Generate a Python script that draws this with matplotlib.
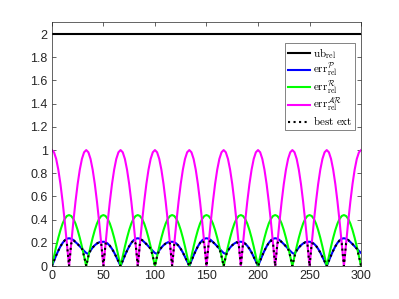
import numpy as np
import matplotlib
matplotlib.use("Agg")
import matplotlib.pyplot as plt

plt.rcParams['mathtext.fontset'] = 'cm'
plt.rcParams['font.family'] = ['Liberation Sans', 'DejaVu Sans']

# x samples (0..300) and one period (66.7 units, 32 samples) of each curve
x_start, x_end, n_points = 0, 300, 145

ub_value = 2.0

err_P_period = [0.000, 0.047, 0.092, 0.133, 0.170, 0.200, 0.222, 0.236,
                0.240, 0.236, 0.225, 0.208, 0.190, 0.170, 0.150, 0.131,
                0.113, 0.105, 0.135, 0.160, 0.180, 0.195, 0.205, 0.209,
                0.210, 0.207, 0.194, 0.175, 0.149, 0.117, 0.080, 0.041]

err_R_period = [0.000, 0.086, 0.168, 0.244, 0.311, 0.367, 0.407, 0.432,
                0.440, 0.432, 0.407, 0.367, 0.311, 0.244, 0.168, 0.086,
                0.000, 0.086, 0.168, 0.244, 0.311, 0.367, 0.407, 0.432,
                0.440, 0.432, 0.407, 0.367, 0.311, 0.244, 0.168, 0.086]

err_AR_period = [1.000, 0.981, 0.924, 0.831, 0.707, 0.556, 0.383, 0.195,
                 0.000, 0.195, 0.383, 0.556, 0.707, 0.831, 0.924, 0.981,
                 1.000, 0.981, 0.924, 0.831, 0.707, 0.556, 0.383, 0.195,
                 0.000, 0.195, 0.383, 0.556, 0.707, 0.831, 0.924, 0.981]

best_ext_period = [0.000, 0.047, 0.092, 0.133, 0.170, 0.200, 0.222, 0.195,
                   0.000, 0.195, 0.225, 0.208, 0.190, 0.170, 0.150, 0.086,
                   0.000, 0.086, 0.135, 0.160, 0.180, 0.195, 0.205, 0.195,
                   0.000, 0.195, 0.194, 0.175, 0.149, 0.117, 0.080, 0.041]

labels = [r'$\mathrm{ub}_{\mathrm{rel}}$',
          r'$\mathrm{err}^{\mathcal{P}}_{\mathrm{rel}}$',
          r'$\mathrm{err}^{\mathcal{R}}_{\mathrm{rel}}$',
          r'$\mathrm{err}^{\mathcal{AR}}_{\mathrm{rel}}$',
          r'$\mathrm{best\ ext}$']

x_ticks = [0, 50, 100, 150, 200, 250, 300]
y_ticks = [0, 0.2, 0.4, 0.6, 0.8, 1, 1.2, 1.4, 1.6, 1.8, 2]
y_tick_labels = ['0', '0.2', '0.4', '0.6', '0.8', '1', '1.2', '1.4', '1.6', '1.8', '2']

x = np.linspace(x_start, x_end, n_points)
def series(period):
    return np.tile(np.array(period), 5)[:n_points]

fig = plt.figure(figsize=(3.99, 2.99), dpi=100)
ax = fig.add_axes([0.13, 0.11, 0.775, 0.815])

lw = 1.5
ax.plot(x, np.full(n_points, ub_value), color='k', lw=lw, label=labels[0])
ax.plot(x, series(err_P_period), color=(0, 0, 1), lw=lw, label=labels[1])
ax.plot(x, series(err_R_period), color=(0, 1, 0), lw=lw, label=labels[2])
ax.plot(x, series(err_AR_period), color=(1, 0, 1), lw=lw, label=labels[3])
ax.plot(x, series(best_ext_period), color='k', lw=lw, ls=':', label=labels[4])

ax.set_xlim(0, 300)
ax.set_ylim(0, 2.1)
ax.set_xticks(x_ticks)
ax.set_xticklabels([str(t) for t in x_ticks])
ax.set_yticks(y_ticks)
ax.set_yticklabels(y_tick_labels)

axcol = (0.15, 0.15, 0.15)
for s in ax.spines.values():
    s.set_color((0.15, 0.15, 0.15))
    s.set_linewidth(0.5)
ax.tick_params(direction='in', length=3, width=0.5, colors=axcol,
               labelsize=9, top=True, right=True, pad=3)
for lab in ax.get_xticklabels() + ax.get_yticklabels():
    lab.set_color(axcol)

leg = ax.legend(loc='upper right', bbox_to_anchor=(0.98, 0.915), fontsize=8,
                frameon=True, fancybox=False, handlelength=2.0, handletextpad=0.25,
                labelspacing=0.0, borderpad=0.25, borderaxespad=0)
leg.get_frame().set_edgecolor((0.15, 0.15, 0.15))
leg.get_frame().set_linewidth(0.5)

fig.savefig('out.png', dpi=100)
